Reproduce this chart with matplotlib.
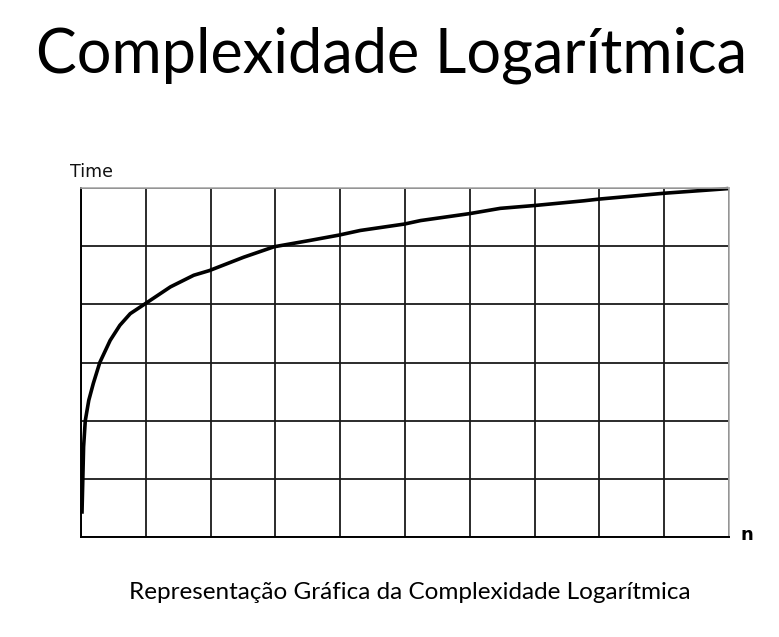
import matplotlib
matplotlib.use("Agg")
import matplotlib.pyplot as plt

n_values = [0.015, 0.04, 0.066, 0.12, 0.19, 0.29, 0.45, 0.6, 0.76, 0.99, 1.38, 1.74, 1.98, 2.51, 2.98,
            3.54, 3.98, 4.31, 4.99, 5.24, 6.0, 6.47, 7.01, 7.76, 8.0, 9.0, 9.99]
time_values = [0.40, 1.55, 2.0, 2.35, 2.64, 3.0, 3.38, 3.64, 3.84, 4.01, 4.30, 4.50, 4.58, 4.81, 4.99,
               5.10, 5.19, 5.27, 5.38, 5.44, 5.56, 5.65, 5.70, 5.78, 5.81, 5.91, 5.99]
x_ticks = list(range(0, 11))
y_ticks = list(range(0, 7))

title_text = "Complexidade Logarítmica"
caption_text = "Representação Gráfica da Complexidade Logarítmica"
y_label = "Time"
x_label = "n"

W, H = 779, 637
fig = plt.figure(figsize=(W / 100, H / 100), dpi=100)
ax = fig.add_axes([81 / W, 1 - 537 / H, (729 - 81) / W, (537 - 188) / H])

ax.set_xlim(0, 10)
ax.set_ylim(0, 6)
ax.set_xticks(x_ticks)
ax.set_yticks(y_ticks)
ax.grid(True, color="#1a1a1a", linewidth=1.3)
ax.tick_params(length=0, labelbottom=False, labelleft=False)
for side in ["left", "bottom"]:
    ax.spines[side].set_color("black")
    ax.spines[side].set_linewidth(1.4)
for side in ["top", "right"]:
    ax.spines[side].set_color("#aaaaaa")
    ax.spines[side].set_linewidth(1.2)

ax.plot(n_values, time_values, color="black", linewidth=2.6, solid_capstyle="butt",
        solid_joinstyle="round", clip_on=False)

fig.text(392 / W, 1 - 73 / H, title_text, fontsize=44, family="Lato", ha="center", va="baseline")
fig.text(410 / W, 1 - 599 / H, caption_text, fontsize=17.5, family="Lato", ha="center", va="baseline")
fig.text(70 / W, 1 - 177 / H, y_label, fontsize=12.5, family="DejaVu Sans", color="#111111",
         ha="left", va="baseline")
fig.text(741 / W, 1 - 540 / H, x_label, fontsize=13, family="DejaVu Sans", fontweight="bold",
         ha="left", va="baseline")

fig.savefig("out.png", dpi=100)
